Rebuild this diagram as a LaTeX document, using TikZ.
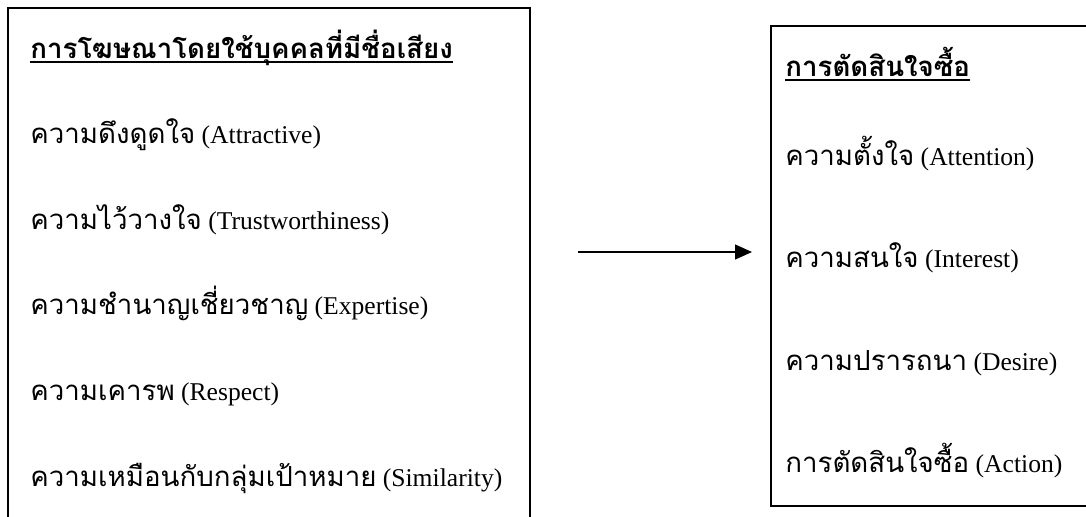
\documentclass[tikz,border=0pt]{standalone}
\usepackage{fontspec}
\setmainfont{Liberation Serif}
\newfontfamily\thaifont[Script=Thai,Scale=1.08]{Loma}
\newcommand\thx[1]{{\thaifont #1}}
\usetikzlibrary{arrows.meta}
\begin{document}
\begin{tikzpicture}[x=0.5pt,y=-0.5pt,
  box/.style={draw, line width=1pt, rectangle, inner sep=0pt},
  item/.style={inner sep=0pt, anchor=base west, font=\fontsize{12.8}{14}\selectfont},
  titlet/.style={item, font=\fontsize{12.8}{14}\selectfont\bfseries},
  uline/.style={line width=0.75pt},
  conn/.style={line width=0.65pt, -{Triangle[length=8.5pt,width=7.5pt]}, shorten >=9pt}]
\useasboundingbox (0,0) rectangle (1086,516);
\clip (0,0) rectangle (1086,516);
\fill[white] (0,0) rectangle (1086,516);
% boxes
\node[box, minimum width=261pt, minimum height=266pt] (L) at (269,274) {};
\node[box, minimum width=169.5pt, minimum height=240pt] (R) at (940.5,266) {};
% left texts
\node[titlet] (lt) at (30,58) {\thx{การโฆษณาโดยใช้บุคคลที่มีชื่อเสียง}};
\node[item] (l1) at (30,143) {\thx{ความดึงดูดใจ} (Attractive)};
\node[item] (l2) at (30,229) {\thx{ความไว้วางใจ} (Trustworthiness)};
\node[item] (l3) at (30,314) {\thx{ความชำนาญเชี่ยวชาญ} (Expertise)};
\node[item] (l4) at (30,400) {\thx{ความเคารพ} (Respect)};
\node[item] (l5) at (30,486) {\thx{ความเหมือนกับกลุ่มเป้าหมาย} (Similarity)};
% right texts
\node[titlet] (rt) at (785,76) {\thx{การตัดสินใจซื้อ}};
\node[item] (r1) at (785,165) {\thx{ความตั้งใจ} (Attention)};
\node[item] (r2) at (785,267) {\thx{ความสนใจ} (Interest)};
\node[item] (r3) at (785,370) {\thx{ความปรารถนา} (Desire)};
\node[item] (r4) at (785,472) {\thx{การตัดสินใจซื้อ} (Action)};
% underlines
\draw[uline] ([yshift=-2pt]lt.base west) -- ([yshift=-2pt]lt.base east);
\draw[uline] ([yshift=-2pt]rt.base west) -- ([yshift=-2pt]rt.base east);
% arrow
\coordinate (a0) at (578,252);
\draw[conn] (a0) -- (a0 -| R.west);
\end{tikzpicture}
\end{document}
